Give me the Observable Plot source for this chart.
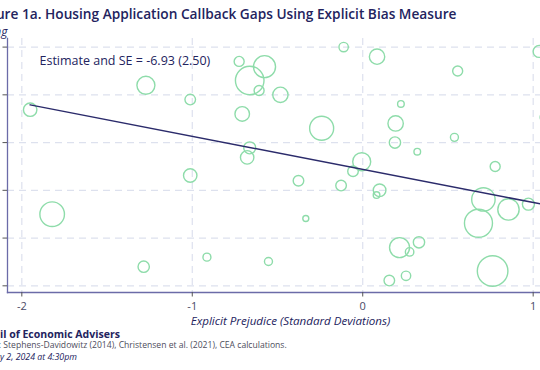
<!DOCTYPE html>
<html><head><meta charset="utf-8">
<script src="https://cdn.jsdelivr.net/npm/d3@7"></script>
<script src="https://cdn.jsdelivr.net/npm/@observablehq/plot@0.6"></script>
<style>
html,body{margin:0;padding:0;}
body{width:540px;height:370px;overflow:hidden;position:relative;background:#fff;font-family:"Open Sans",sans-serif;}
#chart{position:absolute;left:-50px;top:0;width:617px;height:330px;}
#chart svg{max-width:none !important;}
.t{position:absolute;white-space:nowrap;line-height:1;}
#title{font-weight:600;color:#23235e;}
#org{font-weight:700;color:#23235e;}
#src{color:#4d4d5c;}
#date{font-style:italic;color:#23235e;}
</style></head><body>
<div id="chart"></div>
<div class="t" id="title"><span class="pre">Figure 1a. </span><span class="main">Housing Application Callback Gaps Using Explicit Bias Measure</span></div>
<div class="t" id="org"><span class="pre">Counc</span><span class="main">il of Economic Advisers</span></div>
<div class="t" id="src"><span class="pre">Sources: </span><span class="main">Stephens-Davidowitz (2014), Christensen et al. (2021), CEA calculations.</span></div>
<div class="t" id="date"><span class="pre">Januar</span><span class="main">y 2, 2024 at 4:30pm</span></div>
<script>
// ---- data ----
const prejudice = [-1.951,-1.272,-1.012,-0.725,-0.576,-0.663,-0.608,-0.707,-0.663,-0.678,-1.012,-1.822,-1.285,-0.914,-0.553,-0.112,0.084,0.557,1.035,-0.483,0.224,-0.241,0.193,0.189,0.538,0.320,-0.006,-0.057,-0.377,-0.127,0.099,0.081,-0.334,0.216,0.330,0.275,0.254,0.156,0.777,0.708,0.855,0.972,0.679,0.762,1.07];
const callbackGap = [16.9,22.0,19.0,27.0,25.9,23.0,20.9,16.0,8.9,6.9,3.1,-5.0,-16.0,-14.0,-14.9,30.0,28.0,25.0,29.1,20.0,18.1,13.0,14.0,10.0,11.1,8.1,6.0,4.0,2.0,1.0,0.0,-1.0,-5.9,-12.0,-10.9,-12.9,-17.9,-18.9,5.0,-1.9,-4.0,-2.9,-6.9,-16.9,15.3];
const applications = [45,81,28,25,121,204,25,53,36,45,45,151,32,16,16,22,59,25,36,59,11,144,59,32,16,11,81,28,28,28,40,11,9,100,32,18,22,28,25,137,114,36,196,234,25];
const xTicks = [-2,-1,0,1];
const yTicks = [-20,-10,0,10,20,30];
const estimate = -6.93;
const stdError = 2.50;
const intercept = 4.38;
const annotation = `Estimate and SE = ${estimate.toFixed(2)} (${stdError.toFixed(2)})`;
const xTitle = "Explicit Prejudice (Standard Deviations)";
const yTitle = "Percentage Point Callback Gap in Housing";

const rows = prejudice.map((x,i)=>({x, y: callbackGap[i], w: applications[i]}));
const fitX = [d3.min(prejudice), d3.max(prejudice)];
const fit = fitX.map(x=>({x, y: intercept + estimate*x}));

const navy = "#23235e";
const axisColor = "#6b6ba8";
const gridColor = "#dde1ee";

const chart = Plot.plot({
  width: 617, height: 330,
  marginLeft: 57, marginRight: 20, marginTop: 38, marginBottom: 38,
  x: {domain: [-2.084, 1.084]},
  y: {domain: [-21.4, 31.8]},
  r: {type: "sqrt", domain: [0, 234], range: [0, 15.3]},
  style: {fontFamily: "'Open Sans', sans-serif", fontSize: "11px", color: "#4a4a66", background: "transparent"},
  marks: [
    Plot.gridX(xTicks, {stroke: gridColor, strokeOpacity: 1, strokeDasharray: "7,5", strokeWidth: 1.2}),
    Plot.gridY(yTicks, {stroke: gridColor, strokeOpacity: 1, strokeDasharray: "7,5", strokeWidth: 1.2}),
    Plot.frame({anchor: "left", stroke: axisColor, strokeWidth: 1.3}),
    Plot.frame({anchor: "bottom", stroke: axisColor, strokeWidth: 1.3}),
    Plot.axisX(xTicks, {tickSize: 4.5, tickPadding: 5, label: null, tickFormat: d => String(d), stroke: "#555", fill: "#4a4a66"}),
    Plot.axisY(yTicks, {tickSize: 4.5, tickPadding: 4, label: null, tickFormat: d => String(d), stroke: "#555", fill: "#4a4a66"}),
    Plot.dot(rows, {x: "x", y: "y", r: "w", stroke: "#8edcaa", strokeWidth: 1.4, fill: "none"}),
    Plot.line(fit, {x: "x", y: "y", stroke: "#2b2b6b", strokeWidth: 1.5}),
    Plot.text([annotation], {frameAnchor: "top-left", textAnchor: "start", dx: 32, dy: 18, fill: navy, fontSize: 12.5}),
    Plot.text([yTitle], {frameAnchor: "top-left", textAnchor: "end", lineAnchor: "bottom", dx: 0, dy: -3, fill: navy, fontSize: 12, fontStyle: "italic"}),
    Plot.text([xTitle], {frameAnchor: "bottom", textAnchor: "middle", dx: 13, dy: 32, fill: navy, fontSize: 11.6, fontStyle: "italic"})
  ]
});
chart.style.maxWidth = "none";
document.getElementById("chart").appendChild(chart);

// fit text lines so the visible part spans the target range
function place(id, baseSize, startX, endX, centerY){
  const el = document.getElementById(id);
  el.style.fontSize = baseSize + "px";
  const main = el.querySelector(".main"), pre = el.querySelector(".pre");
  const w = main.getBoundingClientRect().width;
  const fs = baseSize * (endX - startX) / w;
  el.style.fontSize = fs + "px";
  const pw = pre.getBoundingClientRect().width;
  el.style.left = (startX - pw) + "px";
  el.style.top = (centerY - fs/2) + "px";
}
place("title", 15, 45, 456.7, 14);
place("org", 13, 0, 120, 334);
place("src", 10.5, 3.3, 287, 345.7);
place("date", 10.5, 0, 77, 357.3);
</script>
</body></html>
